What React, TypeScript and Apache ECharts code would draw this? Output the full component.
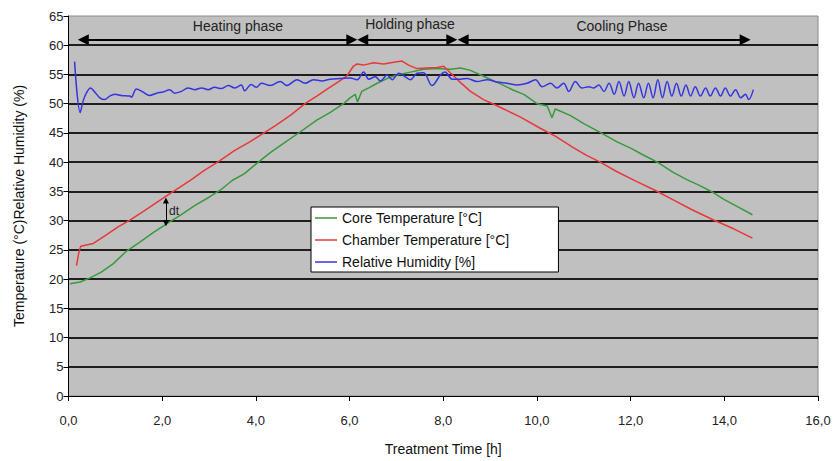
import React, { useEffect, useRef } from "react";
import * as echarts from "echarts";

// ---- data ----
const xTicks = [0, 2, 4, 6, 8, 10, 12, 14, 16];
const seriesNames = ["Core Temperature [°C]", "Chamber Temperature [°C]", "Relative Humidity [%]"];

const coreTime = [0.03, 0.25, 0.46, 0.7, 0.95, 1.24, 1.5, 1.8, 2.1, 2.4, 2.7, 3.0, 3.24, 3.5, 3.75, 4.02, 4.3, 4.59, 4.95, 5.3, 5.59, 5.87, 6.01, 6.12, 6.17, 6.26, 6.41, 6.59, 6.8, 7.01, 7.3, 7.58, 7.87, 8.15, 8.37, 8.58, 8.86, 9.22, 9.5, 9.72, 10.0, 10.22, 10.32, 10.39, 10.71, 11.0, 11.35, 11.7, 12.0, 12.3, 12.57, 12.9, 13.2, 13.5, 13.74, 14.0, 14.3, 14.6];
const coreTemp = [19.2, 19.5, 20.2, 21.2, 22.6, 24.8, 26.2, 27.9, 29.5, 31.0, 32.6, 34.0, 35.2, 36.9, 38.0, 39.8, 41.6, 43.2, 45.2, 47.2, 48.5, 50.0, 51.0, 51.6, 50.3, 52.1, 52.7, 53.5, 54.3, 54.9, 55.4, 55.9, 56.0, 55.9, 56.1, 55.7, 54.7, 53.4, 52.3, 51.6, 50.0, 49.6, 47.6, 49.1, 48.0, 46.6, 45.1, 43.5, 42.4, 41.1, 40.0, 38.3, 37.0, 35.9, 34.9, 33.6, 32.3, 31.0];

const chamberTime = [0.17, 0.22, 0.26, 0.53, 0.8, 1.05, 1.31, 1.6, 1.9, 2.28, 2.6, 2.9, 3.2, 3.55, 3.88, 4.09, 4.41, 4.75, 5.05, 5.3, 5.52, 5.75, 5.94, 6.08, 6.16, 6.3, 6.51, 6.73, 6.94, 7.12, 7.26, 7.44, 7.65, 7.87, 8.01, 8.15, 8.37, 8.58, 8.86, 9.08, 9.29, 9.65, 10.07, 10.4, 10.75, 11.05, 11.35, 11.7, 12.1, 12.52, 12.9, 13.3, 13.77, 14.2, 14.6];
const chamberTemp = [22.3, 24.5, 25.6, 26.1, 27.5, 28.9, 30.1, 31.6, 33.2, 35.2, 36.9, 38.6, 40.1, 42.0, 43.5, 44.6, 46.2, 48.1, 50.0, 51.3, 52.5, 53.7, 54.7, 56.4, 56.8, 56.6, 57.0, 56.8, 57.1, 57.3, 56.6, 56.0, 56.1, 56.2, 56.4, 55.3, 53.6, 52.1, 50.7, 49.9, 49.1, 47.7, 45.8, 44.4, 42.6, 41.2, 40.0, 38.4, 36.8, 35.2, 33.6, 31.9, 30.1, 28.6, 27.0];

const humidityTime = [0.13, 0.25, 0.31, 0.38, 0.47, 0.56, 0.67, 0.77, 0.88, 0.99, 1.13, 1.31, 1.34, 1.45, 1.59, 1.73, 1.88, 2.02, 2.16, 2.27, 2.41, 2.55, 2.7, 2.84, 2.98, 3.12, 3.26, 3.41, 3.55, 3.69, 3.76, 3.9, 4.01, 4.12, 4.31, 4.52, 4.66, 4.88, 5.05, 5.23, 5.41, 5.59, 5.8, 6.01, 6.16, 6.3, 6.41, 6.55, 6.66, 6.8, 6.91, 7.05, 7.19, 7.3, 7.44, 7.58, 7.76, 7.94, 8.04, 8.19, 8.37, 8.51, 8.72, 8.94, 9.15, 9.36, 9.58, 9.79, 9.97, 10.11, 10.29, 10.43, 10.57, 10.68, 10.82, 10.96, 11.11, 11.21, 11.32, 11.43, 11.54, 11.65, 11.75, 11.86, 11.96, 12.07, 12.17, 12.28, 12.38, 12.48, 12.58, 12.68, 12.78, 12.88, 12.98, 13.08, 13.18, 13.28, 13.38, 13.49, 13.6, 13.7, 13.81, 13.92, 14.02, 14.13, 14.24, 14.35, 14.45, 14.52, 14.62];
const humidity = [57.2, 48.5, 50.4, 51.8, 52.7, 52.0, 51.0, 50.7, 51.3, 51.6, 51.4, 51.3, 51.1, 52.5, 52.0, 51.4, 51.8, 52.0, 52.4, 51.8, 52.1, 52.7, 52.4, 52.7, 52.4, 52.8, 52.6, 53.1, 52.7, 53.2, 52.2, 53.3, 52.8, 53.5, 53.1, 53.8, 53.1, 54.1, 53.5, 54.1, 53.9, 54.2, 54.3, 54.4, 54.1, 55.4, 54.2, 54.6, 53.9, 54.9, 54.1, 55.2, 54.6, 54.1, 55.2, 55.3, 53.1, 54.9, 55.4, 54.2, 54.2, 54.3, 53.8, 54.1, 53.7, 53.5, 53.2, 53.5, 54.1, 52.9, 53.5, 52.7, 53.5, 52.1, 53.8, 52.7, 52.9, 52.7, 53.2, 52.1, 53.5, 51.6, 53.8, 51.3, 53.8, 51.0, 53.5, 51.0, 53.5, 51.0, 54.1, 51.0, 53.8, 51.3, 53.5, 51.3, 53.2, 51.3, 52.9, 51.3, 52.7, 51.3, 52.7, 51.3, 52.7, 51.3, 52.4, 51.0, 51.6, 50.7, 52.4];

// annotation values (data units)
const phaseLevel = 60.93;
const phaseSegments = [
  [0.316, 6.048],
  [6.282, 8.183],
  [8.424, 14.445],
];
const phaseLabels = ["Heating phase", "Holding phase", "Cooling Phase"];
const dtTime = 2.08;
const dtRange = [33.46, 29.57];

const FONT = '"Liberation Sans", Arial, sans-serif';
const COLORS = ["#379a3c", "#e8383a", "#3535e0"];

export default function App() {
  const ref = useRef<HTMLDivElement>(null);
  useEffect(() => {
    document.body.style.margin = "0";
    const chart = echarts.init(ref.current!, null, { renderer: "svg" });
    const fmt = (v: number) => v.toFixed(1).replace(".", ",");
    const zip = (a: number[], b: number[]) => a.map((t, i) => [t, b[i]]);
    const option: any = {
      animation: false,
      backgroundColor: "#ffffff",
      textStyle: { fontFamily: FONT },
      grid: {
        left: 68.5,
        right: 19,
        top: 16,
        bottom: 61,
        show: true,
        backgroundColor: "#c0c0c0",
        borderColor: "#8a8a8a",
        borderWidth: 1,
      },
      legend: {
        orient: "vertical",
        left: 311,
        top: 207,
        data: seriesNames,
        icon: "rect",
        itemWidth: 22,
        itemHeight: 1.5,
        itemGap: 8,
        padding: [4, 49, 3, 4],
        backgroundColor: "#ffffff",
        borderColor: "#000000",
        borderWidth: 1,
        borderRadius: 0,
        selectedMode: false,
        textStyle: { fontSize: 14, color: "#111", fontFamily: FONT },
      },
      xAxis: {
        type: "value",
        min: xTicks[0],
        max: xTicks[xTicks.length - 1],
        interval: 2,
        name: "Treatment Time [h]",
        nameLocation: "middle",
        nameGap: 46,
        nameTextStyle: { fontSize: 14, color: "#111", fontFamily: FONT },
        axisLine: { show: true, onZero: false, lineStyle: { color: "#000", width: 1 } },
        axisTick: { show: true, length: 5, lineStyle: { color: "#000" } },
        axisLabel: { formatter: fmt, fontSize: 13, color: "#222", margin: 18, fontFamily: FONT },
        splitLine: { show: false },
      },
      yAxis: {
        type: "value",
        min: 0,
        max: 65,
        interval: 5,
        name: "Temperature (°C)Relative Humidity (%)",
        nameLocation: "middle",
        nameGap: 43,
        nameTextStyle: { fontSize: 14, color: "#111", fontFamily: FONT },
        axisLine: { show: true, lineStyle: { color: "#000", width: 1 } },
        axisTick: { show: true, length: 5, lineStyle: { color: "#000" } },
        axisLabel: { fontSize: 13, color: "#222", margin: 5, fontFamily: FONT },
        splitLine: {
          show: true,
          showMinLine: false,
          showMaxLine: false,
          lineStyle: { color: "#1e1e1e", width: 2 },
        },
      },
      graphic: [
        { type: "text", x: 238, y: 26, style: { text: phaseLabels[0], fill: "#222", font: `14px ${FONT}`, align: "center", verticalAlign: "middle" } },
        { type: "text", x: 410, y: 24, style: { text: phaseLabels[1], fill: "#222", font: `14px ${FONT}`, align: "center", verticalAlign: "middle" } },
        { type: "text", x: 622, y: 26, style: { text: phaseLabels[2], fill: "#222", font: `14px ${FONT}`, align: "center", verticalAlign: "middle" } },
        { type: "text", x: 169, y: 211, style: { text: "dt", fill: "#222", font: `12px ${FONT}`, align: "left", verticalAlign: "middle" } },
      ],
      series: [
        {
          name: seriesNames[0],
          type: "line",
          data: zip(coreTime, coreTemp),
          symbol: "none",
          showSymbol: false,
          lineStyle: { width: 1.5, color: COLORS[0] },
          itemStyle: { color: COLORS[0] },
          z: 3,
        },
        {
          name: seriesNames[1],
          type: "line",
          data: zip(chamberTime, chamberTemp),
          symbol: "none",
          showSymbol: false,
          lineStyle: { width: 1.5, color: COLORS[1] },
          itemStyle: { color: COLORS[1] },
          z: 3,
        },
        {
          name: seriesNames[2],
          type: "line",
          data: zip(humidityTime, humidity),
          symbol: "none",
          showSymbol: false,
          smooth: 0.35,
          lineStyle: { width: 1.5, color: COLORS[2] },
          itemStyle: { color: COLORS[2] },
          z: 4,
          markLine: {
            silent: true,
            animation: false,
            label: { show: false },
            emphasis: { disabled: true },
            data: [
              ...phaseSegments.map(([a, b]) => [
                { coord: [a, phaseLevel], symbol: "triangle", symbolSize: 11, lineStyle: { color: "#000", width: 2, type: "solid" } },
                { coord: [b, phaseLevel], symbol: "triangle", symbolSize: 11 },
              ]),
              [
                { coord: [dtTime, dtRange[0]], symbol: "triangle", symbolSize: 6, lineStyle: { color: "#000", width: 1, type: "solid" } },
                { coord: [dtTime, dtRange[1]], symbol: "triangle", symbolSize: 6 },
              ],
            ],
            itemStyle: { color: "#000" },
          },
        },
      ],
    };
    chart.setOption(option);
    return () => chart.dispose();
  }, []);
  return <div ref={ref} style={{ width: 837, height: 461 }} />;
}
